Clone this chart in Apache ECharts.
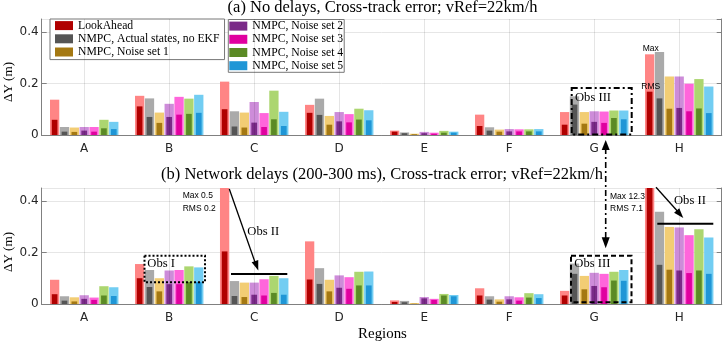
<!DOCTYPE html>
<html><head><meta charset="utf-8">
<script src="https://cdn.jsdelivr.net/npm/echarts@6.0.0/dist/echarts.min.js"></script>
<style>html,body{margin:0;padding:0;background:#fff}#c{width:723px;height:342px}</style>
</head><body><div id="c"></div>
<script>
// ---------------- DATA ----------------
const regions = ['A', 'B', 'C', 'D', 'E', 'F', 'G', 'H'];
const seriesNames = ['LookAhead', 'NMPC, Actual states, no EKF', 'NMPC, Noise set 1',
  'NMPC, Noise set 2', 'NMPC, Noise set 3', 'NMPC, Noise set 4', 'NMPC, Noise set 5'];
const yTicks = [0, 0.2, 0.4];
const yMax = 0.45;

// (a) No delays: Max and RMS per series (rows) per region (columns)
const topMax = [
  [0.137, 0.152, 0.207, 0.117, 0.017, 0.079, 0.089, 0.313],
  [0.031, 0.142, 0.092, 0.141, 0.010, 0.030, 0.150, 0.322],
  [0.029, 0.087, 0.087, 0.074, 0.005, 0.021, 0.089, 0.227],
  [0.031, 0.121, 0.128, 0.089, 0.012, 0.023, 0.092, 0.227],
  [0.031, 0.148, 0.085, 0.081, 0.009, 0.022, 0.091, 0.199],
  [0.059, 0.141, 0.172, 0.102, 0.016, 0.022, 0.095, 0.217],
  [0.051, 0.156, 0.090, 0.096, 0.013, 0.023, 0.095, 0.188]
];
const topRms = [
  [0.059, 0.111, 0.100, 0.086, 0.013, 0.035, 0.040, 0.168],
  [0.013, 0.070, 0.033, 0.078, 0.007, 0.017, 0.118, 0.142],
  [0.012, 0.047, 0.029, 0.040, 0.003, 0.013, 0.044, 0.102],
  [0.017, 0.070, 0.048, 0.053, 0.007, 0.014, 0.051, 0.105],
  [0.013, 0.079, 0.031, 0.049, 0.005, 0.014, 0.047, 0.092],
  [0.026, 0.082, 0.061, 0.060, 0.009, 0.014, 0.066, 0.103],
  [0.023, 0.086, 0.035, 0.057, 0.009, 0.014, 0.061, 0.085]
];
// (b) Network delays
const bottomMax = [
  [0.094, 0.155, 0.5, 0.243, 0.014, 0.061, 0.051, 12.3],
  [0.030, 0.132, 0.089, 0.139, 0.012, 0.030, 0.157, 0.358],
  [0.026, 0.100, 0.083, 0.094, 0.004, 0.018, 0.109, 0.299],
  [0.034, 0.130, 0.083, 0.111, 0.027, 0.030, 0.121, 0.297],
  [0.025, 0.132, 0.096, 0.104, 0.020, 0.026, 0.117, 0.267],
  [0.069, 0.146, 0.109, 0.125, 0.039, 0.042, 0.125, 0.290],
  [0.065, 0.142, 0.100, 0.126, 0.035, 0.038, 0.132, 0.258]
];
const bottomRms = [
  [0.038, 0.100, 0.204, 0.095, 0.008, 0.033, 0.033, 7.1],
  [0.013, 0.066, 0.031, 0.078, 0.007, 0.017, 0.117, 0.152],
  [0.010, 0.049, 0.027, 0.049, 0.001, 0.009, 0.057, 0.133],
  [0.020, 0.077, 0.036, 0.063, 0.022, 0.018, 0.070, 0.130],
  [0.016, 0.077, 0.033, 0.059, 0.016, 0.013, 0.065, 0.120],
  [0.033, 0.085, 0.043, 0.072, 0.033, 0.025, 0.091, 0.130],
  [0.031, 0.085, 0.036, 0.072, 0.030, 0.023, 0.090, 0.117]
];

// ---------------- STYLE ----------------
const darkColors  = ['#b00000', '#555555', '#a47812', '#7a2a88', '#e0009f', '#5b8a25', '#1f96d6'];
const lightColors = ['#ff8585', '#aaaaaa', '#f2cd74', '#cd8cd9', '#ff66db', '#acd670', '#72cdf2'];
const SERIF = '"Liberation Serif", "Times New Roman", serif';
const SANS = '"Liberation Sans", Arial, sans-serif';
const TICKSANS = '"DejaVu Sans", sans-serif';
const axisColor = '#808080';
const labelColor = '#262626';

// font size fitting (to mimic the reference text widths)
const mctx = document.createElement('canvas').getContext('2d');
function fit(text, family, target) {
  mctx.font = '100px ' + family;
  return Math.round(1000 * target / mctx.measureText(text).width) / 10;
}
const titleSize = (fit('(a) No delays, Cross-track error; vRef=22km/h', SERIF, 311) +
  fit('(b) Network delays (200-300 ms), Cross-track error; vRef=22km/h', SERIF, 440)) / 2;
const regionsSize = fit('Regions', SERIF, 49);
const ylabSize = fit('ΔY (m)', SERIF, 40);
const legendSize = fit('NMPC, Actual states, no EKF', SERIF, 142);
const obsSize = fit('Obs III', SERIF, 36);
const smallSize = fit('Max 12.3', SANS, 35);

const chart = echarts.init(document.getElementById('c'), null, {renderer: 'canvas'});

const grids = [
  {left: 41.7, top: 19, width: 680, height: 116},
  {left: 41.7, top: 188, width: 680, height: 116}
];

function makeXAxes(g) {
  return [
    {type: 'category', gridIndex: g, data: regions, position: 'bottom', z: 4,
      axisLine: {lineStyle: {color: axisColor, width: 1}},
      axisTick: {inside: true, alignWithLabel: true, length: 5, lineStyle: {color: axisColor}},
      axisLabel: {color: labelColor, fontFamily: TICKSANS, fontSize: 12, margin: 8},
      splitLine: {show: true, alignWithLabel: true, lineStyle: {color: 'rgba(0,0,0,0.1)'}}},
    {type: 'category', gridIndex: g, data: regions, position: 'top',
      axisLine: {lineStyle: {color: axisColor, width: 1}},
      axisTick: {inside: true, alignWithLabel: true, length: 5, lineStyle: {color: axisColor}},
      axisLabel: {show: false}, splitLine: {show: false}}
  ];
}
function makeYAxes(g) {
  const base = {type: 'value', gridIndex: g, min: yTicks[0], max: yMax, interval: yTicks[1] - yTicks[0]};
  return [
    Object.assign({}, base, {position: 'left',
      axisLine: {show: true, lineStyle: {color: axisColor}},
      axisTick: {show: true, inside: true, length: 5, lineStyle: {color: axisColor}},
      axisLabel: {showMaxLabel: false, color: labelColor, fontFamily: TICKSANS, fontSize: 12, margin: 3,
        formatter: v => (v === 0 ? '0' : (+v).toFixed(1))},
      splitLine: {show: true, lineStyle: {color: '#e6e6e6'}}}),
    Object.assign({}, base, {position: 'right',
      axisLine: {show: true, lineStyle: {color: axisColor}},
      axisTick: {show: true, inside: true, length: 5, lineStyle: {color: axisColor}},
      axisLabel: {show: false}, splitLine: {show: false}})
  ];
}

const series = [];
[[topMax, topRms], [bottomMax, bottomRms]].forEach(([mx, rm], g) => {
  seriesNames.forEach((nm, i) => {
    series.push({type: 'bar', name: nm + ' Max', xAxisIndex: 2 * g, yAxisIndex: 2 * g,
      data: mx[i], barWidth: 9.3, barGap: '6%', z: 2, silent: true,
      itemStyle: {color: lightColors[i]}});
  });
  seriesNames.forEach((nm, i) => {
    series.push({type: 'bar', name: nm, xAxisIndex: 2 * g + 1, yAxisIndex: 2 * g,
      data: rm[i], barWidth: 5.7, barGap: '73%', z: 3, silent: true,
      itemStyle: {color: darkColors[i]}});
  });
});

function legendCfg(names, left, top, pad) {
  return {data: names, orient: 'vertical', left: left, top: top, selectedMode: false,
    icon: 'rect', itemWidth: 18, itemHeight: 9, itemGap: 0,
    padding: pad, borderColor: '#777', borderWidth: 1, backgroundColor: '#fff',
    textStyle: {fontFamily: SERIF, fontSize: legendSize, color: '#000', lineHeight: 13.2}};
}

// annotation helpers
function txt(x, y, s, font, size, align) {
  return {type: 'text', x: x, y: y, z: 20, style: {text: s, fontFamily: font, fontSize: size,
    fill: '#000', align: align || 'left', verticalAlign: 'middle'}};
}
function line(x1, y1, x2, y2, w, dash) {
  return {type: 'line', z: 20, shape: {x1, y1, x2, y2},
    style: {stroke: '#000', lineWidth: w, lineDash: dash || null}};
}
function head(xt, yt, xf, yf, len, wid) {
  const dx = xt - xf, dy = yt - yf, L = Math.hypot(dx, dy);
  const ux = dx / L, uy = dy / L, px = -uy, py = ux;
  const bx = xt - ux * len, by = yt - uy * len;
  return {type: 'polygon', z: 21, shape: {points: [[xt, yt],
    [bx + px * wid / 2, by + py * wid / 2], [bx - px * wid / 2, by - py * wid / 2]]},
    style: {fill: '#000'}};
}
function box(x, y, w, h, dash) {
  return {type: 'rect', z: 20, shape: {x, y, width: w, height: h},
    style: {fill: null, stroke: '#000', lineWidth: 2, lineDash: dash}};
}

const dashDot = [6, 3, 2, 3];
const graphics = [
  txt(382.5, 8, '(a) No delays, Cross-track error; vRef=22km/h', SERIF, titleSize, 'center'),
  txt(382, 175, '(b) Network delays (200-300 ms), Cross-track error; vRef=22km/h', SERIF, titleSize, 'center'),
  txt(382.5, 334, 'Regions', SERIF, regionsSize, 'center'),
  {type: 'text', x: 9, y: 82, rotation: Math.PI / 2, z: 20,
    style: {text: 'ΔY (m)', fontFamily: SERIF, fontSize: ylabSize, fill: '#000', align: 'center', verticalAlign: 'middle'}},
  {type: 'text', x: 9, y: 252, rotation: Math.PI / 2, z: 20,
    style: {text: 'ΔY (m)', fontFamily: SERIF, fontSize: ylabSize, fill: '#000', align: 'center', verticalAlign: 'middle'}},
  // top plot
  txt(642.7, 48.7, 'Max', SANS, smallSize),
  txt(641.3, 86.5, 'RMS', SANS, smallSize),
  box(571.7, 88, 60, 46.5, dashDot),
  txt(575, 97.5, 'Obs III', SERIF, obsSize),
  // double arrow between plots
  line(605.7, 148, 605.7, 240, 1.6, dashDot),
  head(605.7, 140, 605.7, 160, 10, 8),
  head(605.7, 248.3, 605.7, 220, 11, 8),
  // bottom plot
  txt(182.7, 196, 'Max 0.5', SANS, smallSize),
  txt(182.7, 209, 'RMS 0.2', SANS, smallSize),
  box(144.5, 255.7, 60.5, 26.5, [2, 2]),
  txt(147.3, 264, 'Obs I', SERIF, obsSize),
  line(229.3, 189, 256, 265, 1.3),
  head(258.3, 270.5, 229.3, 189, 10, 7),
  txt(247.3, 232, 'Obs II', SERIF, obsSize),
  line(231, 274, 287.3, 274, 2),
  box(571, 255.7, 60.5, 46.5, [5, 3]),
  txt(574.3, 264, 'Obs III', SERIF, obsSize),
  txt(610, 196.5, 'Max 12.3', SANS, smallSize),
  txt(610, 209, 'RMS 7.1', SANS, smallSize),
  line(656, 187.3, 680, 214, 1.3),
  head(683.3, 218, 656, 187.3, 10, 7),
  txt(674, 200.7, 'Obs II', SERIF, obsSize),
  line(657.3, 223.7, 713.3, 223.7, 2)
];

chart.setOption({
  animation: false,
  grid: grids,
  xAxis: makeXAxes(0).concat(makeXAxes(1)),
  yAxis: makeYAxes(0).concat(makeYAxes(1)),
  legend: [legendCfg(seriesNames.slice(0, 3), 50, 19, [0, 5, 1, 5]),
           legendCfg(seriesNames.slice(3), 228.3, 19.5, [0, 1, 0, 1])],
  series: series,
  graphic: graphics
});
</script>
</body></html>
